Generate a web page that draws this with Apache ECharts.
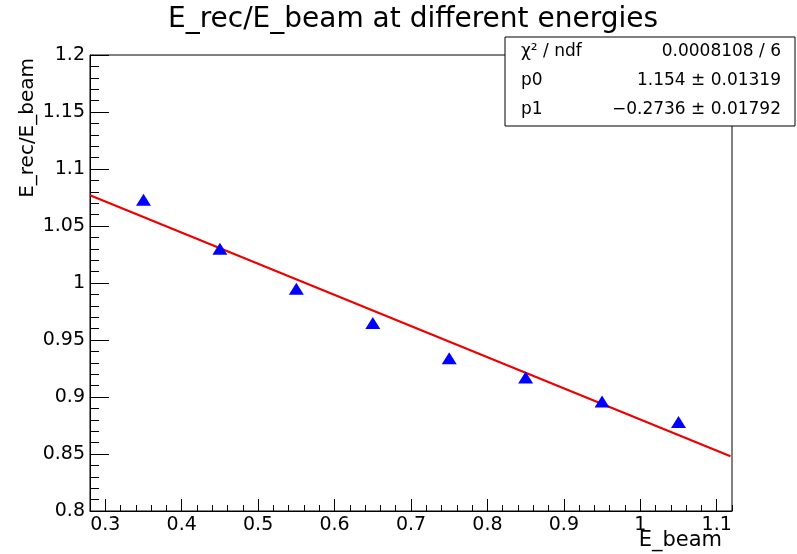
<!DOCTYPE html>
<html>
<head>
<meta charset="utf-8">
<style>
  html, body { margin: 0; padding: 0; background: #fff; }
  #chart { width: 797px; height: 554px; }
</style>
<script src="https://cdn.jsdelivr.net/npm/echarts@6/dist/echarts.min.js"></script>
</head>
<body>
<div id="chart"></div>
<script>
// ---- data ----
const energies = [0.35, 0.45, 0.55, 0.65, 0.75, 0.85, 0.95, 1.05];
const ratios   = [1.073, 1.030, 0.995, 0.965, 0.934, 0.917, 0.896, 0.878];

// fitted straight line (end points of the drawn fit)
const fitLineX = [0.28, 1.118];
const fitLineY = [1.077, 0.848];

// axis ticks
const xTickLabels = [0.3, 0.4, 0.5, 0.6, 0.7, 0.8, 0.9, 1.0, 1.1];
const yTickLabels = [0.8, 0.85, 0.9, 0.95, 1.0, 1.05, 1.1, 1.15, 1.2];
const xRange = [0.28, 1.12];
const yRange = [0.8, 1.2];

// stats box
const statNames  = ['χ² / ndf', 'p0', 'p1'];
const statValues = ['0.0008108 / 6', '1.154 ± 0.01319', '−0.2736 ± 0.01792'];

const titleText = 'E_rec/E_beam at different energies';
const xTitle = 'E_beam';
const yTitle = 'E_rec/E_beam';

// minor tick positions (every 1/5 of a major step)
function minorTicks(lo, hi, step) {
  const out = [];
  const n = Math.round((hi - lo) / step);
  for (let i = 0; i <= n; i++) out.push(Math.round((lo + i * step) * 10000) / 10000);
  return out;
}
const xMinor = minorTicks(xRange[0], xRange[1], 0.02);
const yMinor = minorTicks(yRange[0], yRange[1], 0.01);

const FONT = 'DejaVu Sans';

const chart = echarts.init(document.getElementById('chart'), null, { renderer: 'canvas' });

const statsGraphics = [{
  type: 'rect', z: 100,
  shape: { x: 505, y: 37, width: 290, height: 89 },
  style: { fill: '#fff', stroke: '#000', lineWidth: 1 }
}];
statNames.forEach((n, i) => {
  statsGraphics.push({
    type: 'text', z: 101, x: 521, y: 52 + i * 29,
    style: { text: n, fontFamily: FONT, fontSize: 17, fill: '#000', align: 'left', verticalAlign: 'middle' }
  });
  statsGraphics.push({
    type: 'text', z: 101, x: 781, y: 52 + i * 29,
    style: { text: statValues[i], fontFamily: FONT, fontSize: 17, fill: '#000', align: 'right', verticalAlign: 'middle' }
  });
});

const option = {
  backgroundColor: '#fff',
  animation: false,
  grid: {
    left: 90, right: 65, top: 55, bottom: 43,
    show: true, borderColor: '#000', borderWidth: 1, backgroundColor: 'transparent'
  },
  xAxis: [{
    type: 'value', min: xRange[0], max: xRange[1], position: 'bottom',
    axisLine: { show: true, lineStyle: { color: '#000', width: 1 } },
    axisTick: { show: true, inside: true, length: 12, customValues: xTickLabels, lineStyle: { color: '#000', width: 1 } },
    axisLabel: { show: true, customValues: xTickLabels, margin: 5, color: '#000', fontFamily: FONT, fontSize: 19,
      formatter: v => String(v) },
    splitLine: { show: false }
  }, {
    type: 'value', min: xRange[0], max: xRange[1], position: 'bottom',
    axisLine: { show: false },
    axisTick: { show: true, inside: true, length: 6, customValues: xMinor, lineStyle: { color: '#000', width: 1 } },
    axisLabel: { show: false },
    splitLine: { show: false }
  }],
  yAxis: [{
    type: 'value', min: yRange[0], max: yRange[1], position: 'left',
    axisLine: { show: true, lineStyle: { color: '#000', width: 1 } },
    axisTick: { show: true, inside: true, length: 19, customValues: yTickLabels, lineStyle: { color: '#000', width: 1 } },
    axisLabel: { show: true, customValues: yTickLabels, margin: 5, color: '#000', fontFamily: FONT, fontSize: 19,
      formatter: v => String(Math.round(v * 1000) / 1000) },
    splitLine: { show: false }
  }, {
    type: 'value', min: yRange[0], max: yRange[1], position: 'left',
    axisLine: { show: false },
    axisTick: { show: true, inside: true, length: 9, customValues: yMinor, lineStyle: { color: '#000', width: 1 } },
    axisLabel: { show: false },
    splitLine: { show: false }
  }],
  series: [{
    type: 'line', xAxisIndex: 0, yAxisIndex: 0,
    data: fitLineX.map((x, i) => [x, fitLineY[i]]),
    showSymbol: false, symbol: 'none',
    lineStyle: { color: '#ee0000', width: 2.2 },
    z: 3
  }, {
    type: 'scatter', xAxisIndex: 0, yAxisIndex: 0,
    data: energies.map((x, i) => [x, ratios[i]]),
    symbol: 'triangle', symbolSize: [15, 12],
    itemStyle: { color: '#0000ff', opacity: 1 },
    z: 4
  }],
  graphic: [
    {
      type: 'text', x: 413, y: 20,
      style: { text: titleText, fontFamily: FONT, fontSize: 28, fill: '#000', align: 'center', verticalAlign: 'middle' }
    },
    {
      type: 'text', x: 722, y: 541,
      style: { text: xTitle, fontFamily: FONT, fontSize: 21, fill: '#000', align: 'right', verticalAlign: 'middle' }
    },
    {
      type: 'text', x: 28, y: 58, rotation: Math.PI / 2,
      style: { text: yTitle, fontFamily: FONT, fontSize: 20, fill: '#000', align: 'right', verticalAlign: 'middle' }
    }
  ].concat(statsGraphics)
};

chart.setOption(option);
</script>
</body>
</html>
